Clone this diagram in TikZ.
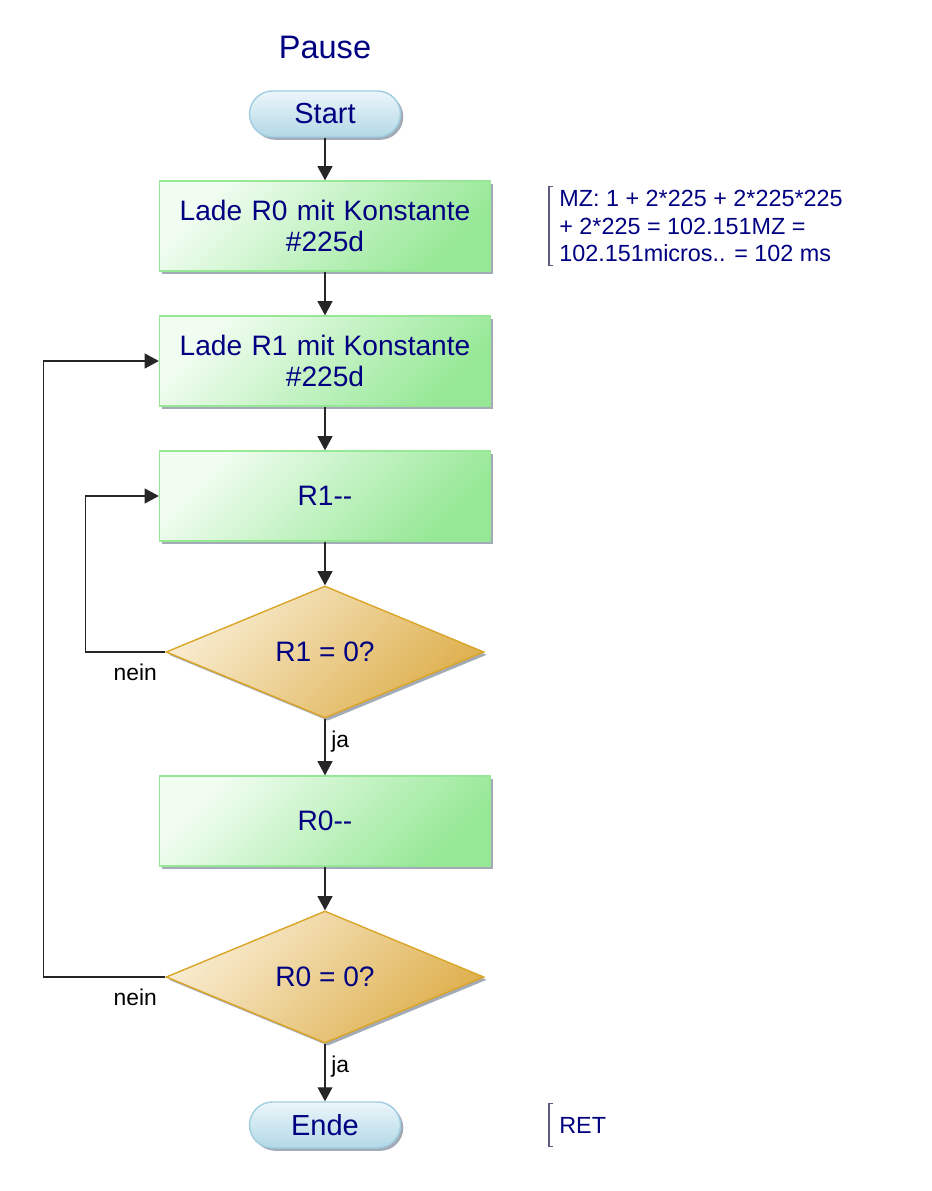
\documentclass[tikz,border=0pt]{standalone}
\usepackage{fontspec}
\setmainfont{Liberation Sans}
\usetikzlibrary{shapes.geometric, arrows.meta, shadows}

\definecolor{navy}{RGB}{0,0,128}
\definecolor{boxedge}{RGB}{150,232,150}
\definecolor{boxlight}{RGB}{242,253,242}
\definecolor{boxdark}{RGB}{150,232,150}
\definecolor{decedge}{RGB}{218,165,40}
\definecolor{declight}{RGB}{248,236,208}
\definecolor{decdark}{RGB}{222,176,78}
\definecolor{termedge}{RGB}{160,205,225}
\definecolor{termlight}{RGB}{236,246,250}
\definecolor{termdark}{RGB}{178,216,230}
\definecolor{shadowgray}{RGB}{140,150,165}
\definecolor{bracketcol}{RGB}{90,90,130}

\begin{document}
\begin{tikzpicture}[
		proc/.style = {rectangle, draw=boxedge, thick, top color=boxlight, bottom color=boxdark, shading angle=45,
			minimum width=6.62cm, minimum height=1.8cm, text width=6.3cm, align=center, text=navy,
			font=\fontsize{16}{18}\selectfont, drop shadow={shadow xshift=1.6pt, shadow yshift=-1.6pt, fill=shadowgray, opacity=0.8}},
		dec/.style = {diamond, aspect=2.4, draw=decedge, thick, top color=declight, bottom color=decdark, shading angle=45,
			minimum width=6.36cm, minimum height=2.64cm, inner sep=0pt, text=navy,
			font=\fontsize{16}{18}\selectfont, drop shadow={shadow xshift=1.6pt, shadow yshift=-1.6pt, fill=shadowgray, opacity=0.8}},
		term/.style = {rectangle, rounded corners=0.46cm, draw=termedge, thick, top color=termlight, bottom color=termdark,
			minimum width=3.02cm, minimum height=0.92cm, text=navy,
			font=\fontsize{16.5}{18}\selectfont, drop shadow={shadow xshift=1.6pt, shadow yshift=-1.6pt, fill=shadowgray, opacity=0.8}},
		cmt/.style = {anchor=west, align=left, text=navy, inner xsep=0.2cm, inner ysep=0.05cm,
			font=\fontsize{13.3}{15.9}\selectfont},
		lbl/.style = {font=\fontsize{13}{15}\selectfont, text=black},
		arr/.style = {-{Triangle[length=8pt, width=8.5pt]}, black!85, line width=0.6pt}
		]
		\useasboundingbox (0,0) rectangle (18.62,-23.82);
		
		%Nodes
		\node[text=navy, font=\fontsize{18.5}{20}\selectfont] (title) at (6.5, -0.94) {Pause};
		\node[term]	(start)	at (6.5, -2.28)		{Start};
		\node[proc]	(p1)	at (6.5, -4.52)		{Lade R0 mit Konstante\\\#225d};
		\node[proc]	(p2)	at (6.5, -7.22)		{Lade R1 mit Konstante\\\#225d};
		\node[proc]	(p3)	at (6.5, -9.92)		{R1-{}-};
		\node[dec]	(d1)	at (6.5, -13.04)	{R1 = 0?};
		\node[proc]	(p4)	at (6.5, -16.42)	{R0-{}-};
		\node[dec]	(d2)	at (6.5, -19.54)	{R0 = 0?};
		\node[term]	(ende)	at (6.5, -22.5)		{Ende};
		
		%Comments
		\node[cmt]	(c1)	at (10.98, -4.52)	{MZ: 1 + 2*225 + 2*225*225\\+ 2*225 = 102.151MZ =\\102.151micros.. = 102 ms};
		\node[cmt, minimum height=0.86cm]	(c2)	at (10.98, -22.5)	{RET};
		\draw[bracketcol, line width=0.6pt] ([xshift=0.08cm]c1.north west) -- (c1.north west) -- (c1.south west) -- ++(0.08,0);
		\draw[bracketcol, line width=0.6pt] ([xshift=0.08cm]c2.north west) -- (c2.north west) -- (c2.south west) -- ++(0.08,0);
		
		%Lines
		\draw[arr] (start) -- (p1);
		\draw[arr] (p1) -- (p2);
		\draw[arr] (p2) -- (p3);
		\draw[arr] (p3) -- (d1);
		\draw[arr] (d1) -- node[lbl, right, pos=0.4] {ja} (p4);
		\draw[arr] (p4) -- (d2);
		\draw[arr] (d2) -- node[lbl, right, pos=0.4] {ja} (ende);
		
		\draw[arr] (d1.west) -- node[lbl, at start, below left, xshift=-0.04cm, yshift=-0.12cm] {nein} ++(-1.6,0) |- (p3.west);
		\draw[arr] (d2.west) -- node[lbl, at start, below left, xshift=-0.04cm, yshift=-0.12cm] {nein} ++(-2.44,0) |- (p2.west);
		
	\end{tikzpicture}
\end{document}
